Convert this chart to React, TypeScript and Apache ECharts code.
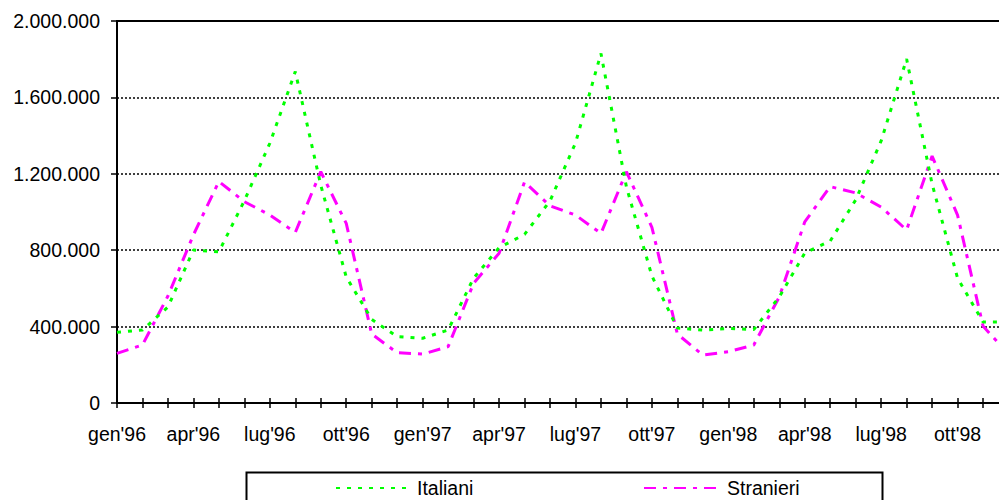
import React, { useEffect, useRef } from 'react';
import * as echarts from 'echarts';

const categories = [
  "gen'96", "feb'96", "mar'96", "apr'96", "mag'96", "giu'96", "lug'96", "ago'96", "set'96", "ott'96", "nov'96", "dic'96",
  "gen'97", "feb'97", "mar'97", "apr'97", "mag'97", "giu'97", "lug'97", "ago'97", "set'97", "ott'97", "nov'97", "dic'97",
  "gen'98", "feb'98", "mar'98", "apr'98", "mag'98", "giu'98", "lug'98", "ago'98", "set'98", "ott'98", "nov'98", "dic'98",
];

const italiani = [
  370000, 382000, 503000, 801000, 792000, 1059000, 1360000, 1735000, 1140000, 660000, 438000, 347000,
  339000, 382000, 654000, 813000, 883000, 1058000, 1361000, 1830000, 1131000, 665000, 392000, 382000,
  390000, 385000, 555000, 785000, 848000, 1063000, 1372000, 1801000, 1147000, 654000, 424000, 424000,
];

const stranieri = [
  260000, 304000, 560000, 880000, 1160000, 1054000, 984000, 893000, 1211000, 940000, 361000, 263000,
  256000, 295000, 627000, 784000, 1157000, 1032000, 984000, 888000, 1211000, 920000, 361000, 251000,
  268000, 304000, 555000, 948000, 1133000, 1100000, 1026000, 906000, 1293000, 984000, 403000, 255000,
];

const seriesNames = ['Italiani', 'Stranieri'];

const FONT = 'Liberation Sans, Arial, sans-serif';
const FS = 19.5;

function fmt(v: number): string {
  return String(v).replace(/\B(?=(\d{3})+(?!\d))/g, '.');
}

export default function App() {
  const ref = useRef<HTMLDivElement>(null);
  useEffect(() => {
    const chart = echarts.init(ref.current!, null, { renderer: 'svg' });
    const textStyle = { color: '#000', fontSize: FS, fontFamily: FONT };
    const legendCommon = {
      top: 473, itemHeight: 14,
      itemStyle: { opacity: 0 },
      textStyle: { ...textStyle },
    };
    chart.setOption({
      animation: false,
      backgroundColor: '#fff',
      grid: {
        left: 117, top: 21, right: 6.5, bottom: 97,
        show: true, borderColor: '#000', borderWidth: 2,
        outerBoundsMode: 'none',
      },
      xAxis: [
        {
          type: 'category', data: categories, boundaryGap: false,
          axisLine: { lineStyle: { color: '#000', width: 2 } },
          axisTick: { show: true, interval: 0, length: 5, lineStyle: { color: '#000', width: 1.5 } },
          axisLabel: { interval: 2, margin: 21, ...textStyle },
          splitLine: { show: false },
        },
        {
          type: 'category', data: categories, boundaryGap: false, position: 'bottom',
          axisLine: { show: false },
          axisTick: { show: true, inside: true, interval: 0, length: 5, lineStyle: { color: '#000', width: 1.5 } },
          axisLabel: { show: false },
          splitLine: { show: false },
        },
      ],
      yAxis: {
        type: 'value', min: 0, max: 2000000, interval: 400000,
        axisLine: { show: true, lineStyle: { color: '#000', width: 2 } },
        axisTick: { show: true, length: 6, lineStyle: { color: '#000', width: 1.5 } },
        axisLabel: { margin: 17, formatter: (v: number) => fmt(v), ...textStyle },
        splitLine: { show: true, lineStyle: { color: '#000', type: [2, 2], width: 1.5 } },
      },
      legend: [
        { ...legendCommon, data: [seriesNames[0]], left: 330, itemWidth: 76 },
        { ...legendCommon, data: [seriesNames[1]], left: 638, itemWidth: 78 },
      ],
      graphic: [
        {
          type: 'rect', left: 244, top: 470,
          shape: { width: 636, height: 60 },
          style: { fill: 'none', stroke: '#000', lineWidth: 2 },
          z: -1,
        },
      ],
      series: [
        {
          name: seriesNames[0], type: 'line', data: italiani, symbol: 'none',
          lineStyle: { color: '#00ff00', width: 3, type: [4, 7] },
          itemStyle: { color: '#00ff00' },
          z: 3,
        },
        {
          name: seriesNames[1], type: 'line', data: stranieri, symbol: 'none',
          lineStyle: { color: '#ff00ff', width: 3, type: [12, 7, 4, 7] },
          itemStyle: { color: '#ff00ff' },
          z: 2,
        },
      ],
    });
    return () => chart.dispose();
  }, []);
  return (
    <div style={{ position: 'fixed', left: 0, top: 0, width: 999, height: 500, overflow: 'hidden', background: '#fff' }}>
      <div ref={ref} style={{ width: 1015, height: 500 }} />
    </div>
  );
}
